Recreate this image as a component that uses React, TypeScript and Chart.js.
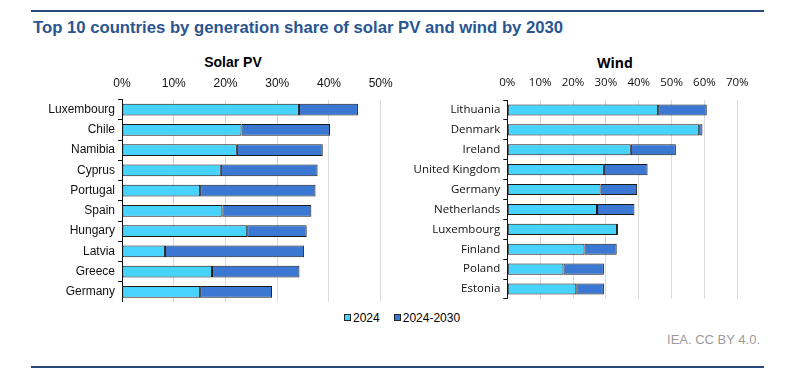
import React, { useEffect, useRef } from "react";
import { Chart, registerables } from "chart.js";

Chart.register(...registerables);

const solarCountries = ["Luxembourg", "Chile", "Namibia", "Cyprus", "Portugal", "Spain", "Hungary", "Latvia", "Greece", "Germany"];
const solar2024 = [34.2, 23.1, 22.2, 19.1, 15.1, 19.4, 24.2, 8.3, 17.4, 15.1];
const solarGrowth = [11.4, 17.1, 16.6, 18.7, 22.3, 17.2, 11.5, 26.9, 16.9, 13.9];
const solarMax = 50;

const windCountries = ["Lithuania", "Denmark", "Ireland", "United Kingdom", "Germany", "Netherlands", "Luxembourg", "Finland", "Poland", "Estonia"];
const wind2024 = [45.9, 58.4, 37.6, 29.4, 28.4, 27.3, 33.4, 23.5, 17.1, 21.0];
const windGrowth = [14.8, 1.0, 13.7, 13.3, 11.1, 11.4, 0.3, 9.8, 12.3, 8.4];
const windMax = 70;

const tickStep = 10;
const seriesNames = ["2024", "2024-2030"];
const colors = ["#47d3fd", "#3b78d4"];

const TITLE = "Top 10 countries by generation share of solar PV and wind by 2030";
const SOURCE = "IEA. CC BY 4.0.";

function makeConfig(opts: {
  labels: string[];
  a: number[];
  b: number[];
  max: number;
  font: string;
  fontSize: number;
  yWidth: number;
  xHeight: number;
  xPad: number;
  padRight: number;
  barPct: number;
}): any {
  const { labels, a, b, max, font, fontSize, yWidth, xHeight, xPad, padRight, barPct } = opts;
  const mk = (name: string, data: number[], color: string) => ({
    label: name,
    data,
    backgroundColor: color,
    borderColor: "#1a1a1a",
    borderWidth: 1,
    borderSkipped: false,
    barPercentage: barPct,
    categoryPercentage: 1,
  });
  return {
    type: "bar",
    data: {
      labels,
      datasets: [mk(seriesNames[0], a, colors[0]), mk(seriesNames[1], b, colors[1])],
    },
    options: {
      indexAxis: "y",
      animation: false,
      responsive: false,
      devicePixelRatio: 1,
      layout: { padding: { left: 0, right: padRight, top: 0, bottom: 0 } },
      plugins: { legend: { display: false }, tooltip: { enabled: false }, title: { display: false } },
      scales: {
        x: {
          position: "top",
          stacked: true,
          min: 0,
          max,
          ticks: {
            stepSize: tickStep,
            color: "#111",
            padding: xPad,
            font: { family: font, size: fontSize },
            callback: (v: any) => v + "%",
          },
          grid: { color: "#dcdcdc", lineWidth: 1, drawTicks: false },
          border: { display: false },
          afterFit: (s: any) => {
            s.height = xHeight;
            s.paddingLeft = 0;
            s.paddingRight = 0;
          },
        },
        y: {
          stacked: true,
          ticks: {
            color: "#111",
            padding: 3,
            font: { family: font, size: fontSize },
          },
          grid: { drawOnChartArea: false, tickLength: 4, tickColor: "#111", offset: true },
          border: { display: true, color: "#111", width: 1 },
          afterFit: (s: any) => {
            s.width = yWidth;
            s.paddingTop = 0;
            s.paddingBottom = 0;
          },
        },
      },
    },
  };
}

const ARIAL = "'Liberation Sans', Arial, sans-serif";
const SEGOE = "'Open Sans', 'Noto Sans', sans-serif";

export default function App() {
  const solarRef = useRef<HTMLCanvasElement>(null);
  const windRef = useRef<HTMLCanvasElement>(null);

  useEffect(() => {
    const c1 = new Chart(
      solarRef.current as HTMLCanvasElement,
      makeConfig({
        labels: solarCountries,
        a: solar2024,
        b: solarGrowth,
        max: solarMax,
        font: ARIAL,
        fontSize: 12,
        yWidth: 122,
        xHeight: 33.5,
        xPad: 8.3,
        padRight: 19.3,
        barPct: 0.57,
      })
    );
    const c2 = new Chart(
      windRef.current as HTMLCanvasElement,
      makeConfig({
        labels: windCountries,
        a: wind2024,
        b: windGrowth,
        max: windMax,
        font: SEGOE,
        fontSize: 11.5,
        yWidth: 107.3,
        xHeight: 34,
        xPad: 10.8,
        padRight: 50.7,
        barPct: 0.56,
      })
    );
    return () => {
      c1.destroy();
      c2.destroy();
    };
  }, []);

  const sq = (color: string): React.CSSProperties => ({
    display: "inline-block",
    width: 5,
    height: 5,
    background: color,
    border: "1px solid #222",
    marginRight: 2,
    verticalAlign: "middle",
    position: "relative",
    top: -1,
  });

  return (
    <div style={{ position: "absolute", left: 0, top: 0, width: 788, height: 378, background: "#fff", overflow: "hidden", fontFamily: ARIAL }}>
      <div style={{ position: "absolute", left: 31, top: 10, width: 733, height: 2, background: "#27497c" }} />
      <div style={{ position: "absolute", left: 33, top: 18, fontSize: 16.7, lineHeight: "20px", fontWeight: "bold", color: "#2a5591", whiteSpace: "nowrap" }}>{TITLE}</div>
      <div style={{ position: "absolute", left: 133, width: 200, top: 53, textAlign: "center", fontSize: 14, lineHeight: "18px", fontWeight: "bold", color: "#000" }}>Solar PV</div>
      <div style={{ position: "absolute", left: 515, width: 200, top: 53, textAlign: "center", fontSize: 14, lineHeight: "20px", fontWeight: "bold", color: "#000", fontFamily: SEGOE }}>Wind</div>
      <canvas ref={solarRef} width={400} height={236} style={{ position: "absolute", left: 0, top: 66, display: "block" }} />
      <canvas ref={windRef} width={388} height={233} style={{ position: "absolute", left: 400, top: 66, display: "block" }} />
      <div style={{ position: "absolute", left: 344, top: 311, fontSize: 12, lineHeight: "14px", color: "#000", whiteSpace: "nowrap" }}>
        <span style={sq(colors[0])} />
        <span>{seriesNames[0]}</span>
        <span style={{ display: "inline-block", width: 14 }} />
        <span style={sq(colors[1])} />
        <span>{seriesNames[1]}</span>
      </div>
      <div style={{ position: "absolute", right: 28, top: 332, fontSize: 13, lineHeight: "16px", color: "#9a9a9a", whiteSpace: "nowrap" }}>{SOURCE}</div>
      <div style={{ position: "absolute", left: 31, top: 366, width: 733, height: 2, background: "#27497c" }} />
    </div>
  );
}
